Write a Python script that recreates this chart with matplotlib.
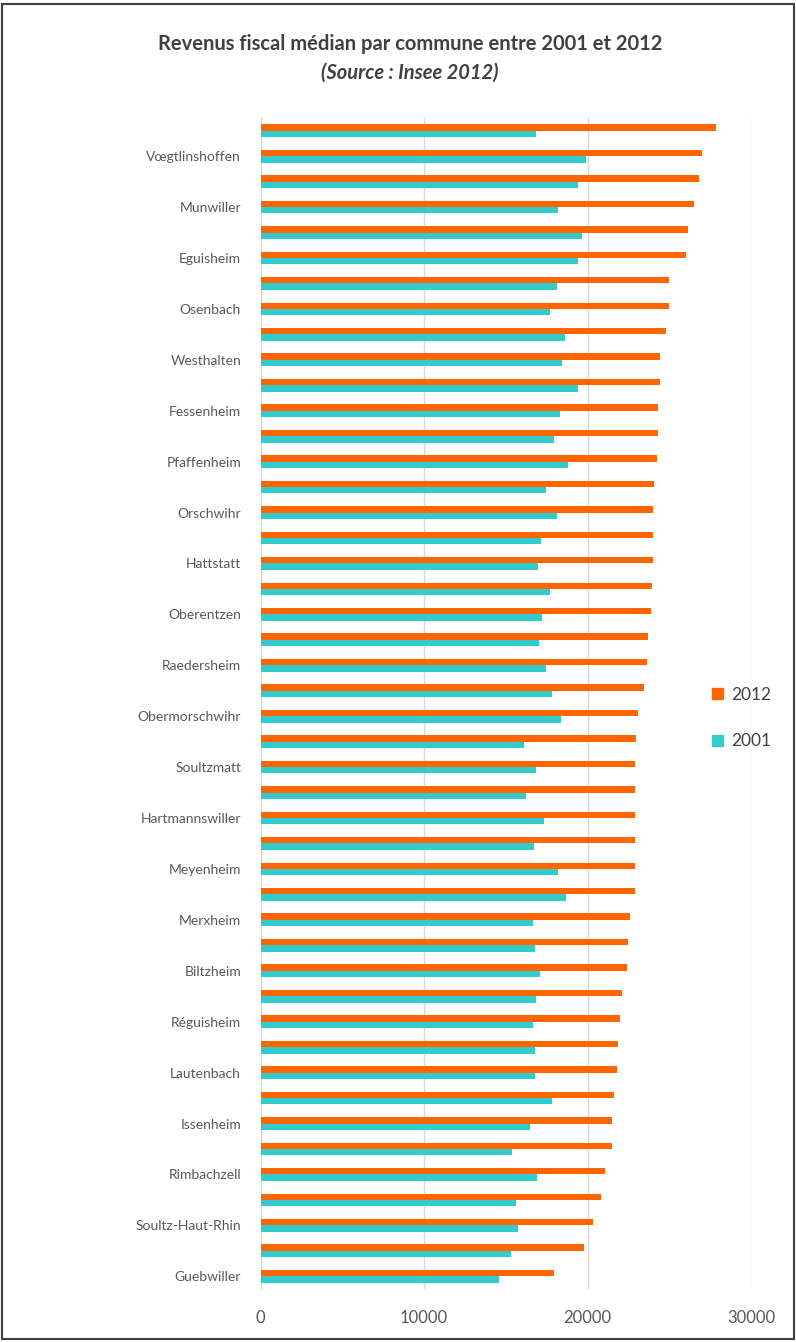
import matplotlib.pyplot as plt
import numpy as np
from matplotlib.patches import Patch, Rectangle

plt.rcParams['font.family'] = ['Lato', 'DejaVu Sans']

# communes shown on the axis (every other row, top to bottom)
communes = ["Vœgtlinshoffen", "Munwiller", "Eguisheim", "Osenbach", "Westhalten",
            "Fessenheim", "Pfaffenheim", "Orschwihr", "Hattstatt", "Oberentzen",
            "Raedersheim", "Obermorschwihr", "Soultzmatt", "Hartmannswiller",
            "Meyenheim", "Merxheim", "Biltzheim", "Réguisheim", "Lautenbach",
            "Issenheim", "Rimbachzell", "Soultz-Haut-Rhin", "Guebwiller"]

# median income, 46 rows from top to bottom
rev_2012 = [27860, 27000, 26820, 26530, 26170, 26020, 24990, 24990, 24800, 24450,
            24410, 24310, 24310, 24230, 24070, 24030, 24030, 24030, 23950, 23870,
            23720, 23660, 23440, 23090, 22990, 22910, 22910, 22910, 22890, 22910,
            22910, 22600, 22480, 22420, 22110, 21970, 21880, 21820, 21600, 21500,
            21500, 21070, 20840, 20360, 19790, 17970]
rev_2001 = [16850, 19910, 19440, 18200, 19680, 19400, 18150, 17710, 18640, 18440,
            19440, 18300, 17930, 18810, 17460, 18150, 17180, 16950, 17710, 17240,
            17030, 17460, 17830, 18360, 16140, 16830, 16220, 17340, 16730, 18200,
            18700, 16650, 16810, 17100, 16850, 16670, 16810, 16810, 17830, 16480,
            15380, 16930, 15610, 15750, 15320, 14610]

x_ticks = [0, 10000, 20000, 30000]

fig = plt.figure(figsize=(7.96, 13.42), dpi=100)
ax = fig.add_axes([0.3273, 0.0395, 0.6162, 0.8726])

pos = np.arange(len(rev_2012))
h = 0.25
ax.barh(pos - h / 2, rev_2012, height=h, color="#FF6600", label="2012", zorder=3)
ax.barh(pos + h / 2, rev_2001, height=h, color="#33CCCC", label="2001", zorder=3)

ax.set_xlim(0, 30000)
ax.set_ylim(len(pos) - 0.5, -0.5)
ax.set_xticks(x_ticks)
ax.set_xticklabels([str(t) for t in x_ticks])
ax.set_yticks(pos[1::2])
ax.set_yticklabels(communes)
ax.tick_params(axis="both", length=0, labelsize=10, colors="#595959")
ax.tick_params(axis="x", pad=15, labelsize=12)
ax.tick_params(axis="y", pad=14)
ax.grid(axis="x", color="#d9d9d9", linewidth=1, zorder=0)
for s in ["top", "right", "bottom"]:
    ax.spines[s].set_visible(False)
ax.spines["left"].set_color("#d9d9d9")

# title
fig.text(0.515, 0.967, "Revenus fiscal médian par commune entre 2001 et 2012",
         ha="center", va="center", fontsize=14.5, fontweight="bold", color="#404040")
fig.text(0.515, 0.946, "(Source : Insee 2012)", ha="center", va="center",
         fontsize=14.5, fontweight="bold", style="italic", color="#404040")

# legend
handles = [Patch(color="#FF6600", label="2012"), Patch(color="#33CCCC", label="2001")]
fig.legend(handles=handles, loc="center left", bbox_to_anchor=(0.875, 0.465),
           frameon=False, fontsize=12.5, handlelength=0.6, handleheight=0.6,
           handletextpad=0.5, labelspacing=1.75, labelcolor="#404040")

# chart frame
fig.patches.append(Rectangle((0.003, 0.002), 0.994, 0.995, transform=fig.transFigure,
                             fill=False, edgecolor="#404040", linewidth=1.5))

plt.savefig("out.png", dpi=100)
